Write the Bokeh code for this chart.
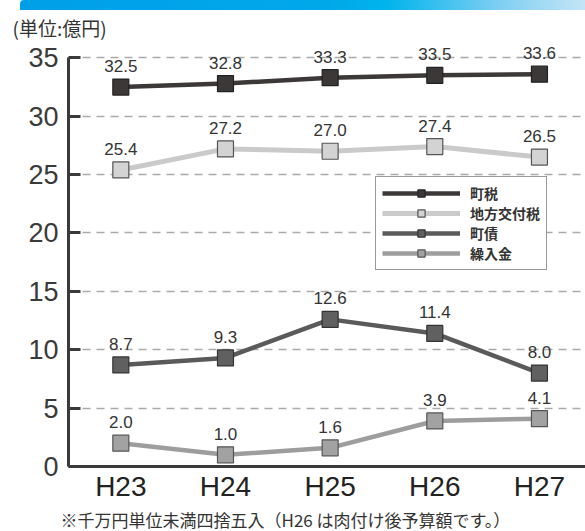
from bokeh.plotting import figure
from bokeh.layouts import column
from bokeh.models import Legend, LegendItem, FixedTicker, Title, ColumnDataSource, Div
from bokeh.embed import file_html
from bokeh.resources import INLINE
from bokeh.core.properties import value

years = ["H23", "H24", "H25", "H26", "H27"]
chozei = [32.5, 32.8, 33.3, 33.5, 33.6]
chiho_kofuzei = [25.4, 27.2, 27.0, 27.4, 26.5]
chosai = [8.7, 9.3, 12.6, 11.4, 8.0]
kuriire = [2.0, 1.0, 1.6, 3.9, 4.1]
series_names = ["町税", "地方交付税", "町債", "繰入金"]
y_ticks = [0, 5, 10, 15, 20, 25, 30, 35]

FONT = "Liberation Sans"
JP = "Noto Sans CJK JP"
DARK = "#3a3a3a"

# ---- decorative top band ----
band = Div(text="", width=565, height=10, margin=(0, 0, 0, 20),
           styles={"background": "linear-gradient(to right, #009fe8 0%, #00a8ea 55%, #00b4ec 65%, #7fcff2 85%, #c4e5f7 100%)",
                   "border-top-left-radius": "4px"})

# ---- main chart ----
p = figure(width=585, height=521, x_range=(-0.5, 4.44), y_range=(0, 36.4),
           min_border_left=68, min_border_right=0, min_border_top=30, min_border_bottom=65,
           output_backend="svg", toolbar_location=None)
p.outline_line_color = None
p.background_fill_color = "white"

p.title.text = "(単位:億円)"
p.title.align = "left"
p.title.offset = -56
p.title.text_font = JP
p.title.text_font_size = "19px"
p.title.text_font_style = "normal"
p.title.text_color = "#333333"
p.title.standoff = 2

p.xaxis.ticker = FixedTicker(ticks=list(range(len(years))))
p.xaxis.major_label_overrides = {i: y for i, y in enumerate(years)}
p.xaxis.major_tick_line_color = None
p.xaxis.major_tick_in = 0
p.xaxis.major_tick_out = 0
p.xaxis.minor_tick_line_color = None
p.xaxis.axis_line_width = 3
p.xaxis.axis_line_color = DARK
p.xaxis.major_label_text_font = FONT
p.xaxis.major_label_text_font_size = "28px"
p.xaxis.major_label_text_color = "#222222"
p.xaxis.major_label_standoff = 4

p.yaxis.ticker = FixedTicker(ticks=y_ticks)
p.yaxis.bounds = (0, 35)
p.yaxis.axis_line_width = 3
p.yaxis.axis_line_color = DARK
p.yaxis.major_tick_in = 12
p.yaxis.major_tick_out = 0
p.yaxis.major_tick_line_width = 3
p.yaxis.major_tick_line_color = DARK
p.yaxis.minor_tick_line_color = None
p.yaxis.major_label_text_font = FONT
p.yaxis.major_label_text_font_size = "27px"
p.yaxis.major_label_text_color = DARK
p.yaxis.major_label_standoff = 10

p.xgrid.visible = False
p.ygrid.ticker = FixedTicker(ticks=y_ticks[1:])
p.ygrid.grid_line_color = "#aaaaaa"
p.ygrid.grid_line_width = 1.3
p.ygrid.grid_line_dash = "8 6"

xs = list(range(len(years)))
styles = [
    (chozei, "#3c3838", "#3c3838", "#222222", 4.5),
    (chiho_kofuzei, "#cacaca", "#d3d3d3", "#555555", 5),
    (chosai, "#5a5a5a", "#606060", "#333333", 4.5),
    (kuriire, "#9d9d9d", "#a2a2a2", "#555555", 4.5),
]

items = []
for name, (vals, lc, fc, oc, lw) in zip(series_names, styles):
    src = ColumnDataSource(dict(x=xs, y=vals, t=[f"{v:.1f}" for v in vals]))
    l = p.line("x", "y", source=src, line_color=lc, line_width=lw)
    s = p.scatter("x", "y", source=src, marker="square", size=16,
                  fill_color=fc, line_color=oc, line_width=1.2)
    p.text("x", "y", text="t", source=src, text_align="center", text_baseline="middle",
           y_offset=-21, text_font=value(FONT), text_font_size="17px", text_color="#333333")
    items.append(LegendItem(label=name, renderers=[l, s]))

legend = Legend(items=items, location=(307, 196))
legend.border_line_color = "#333333"
legend.border_line_width = 1
legend.background_fill_color = "white"
legend.background_fill_alpha = 1
legend.padding = 6
legend.margin = 0
legend.spacing = -3
legend.glyph_width = 78
legend.glyph_height = 18
legend.label_standoff = 10
legend.label_text_font = JP
legend.label_text_font_size = "14px"
legend.label_text_font_style = "bold"
legend.label_text_color = "#333333"
legend.label_height = 17
p.add_layout(legend)

note = Title(text="※千万円単位未満四捨五入（H26 は肉付け後予算額です。）",
             align="left", offset=-8, standoff=0,
             text_font=JP, text_font_size="17px", text_font_style="normal",
             text_color="#333333")
p.add_layout(note, "below")

layout = column(band, p, spacing=0)
open("out.html", "w").write(file_html(layout, INLINE))
